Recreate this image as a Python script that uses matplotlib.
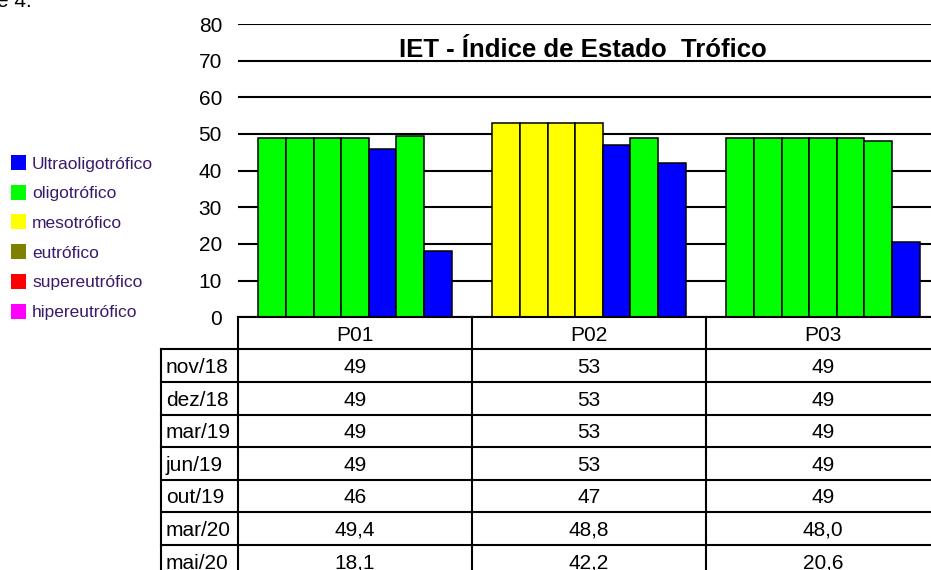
import matplotlib
matplotlib.use("Agg")
import matplotlib.pyplot as plt
from matplotlib.patches import Rectangle
from matplotlib.lines import Line2D
import numpy as np

# ---------------- data ----------------
points = ["P01", "P02", "P03"]
dates = ["nov/18", "dez/18", "mar/19", "jun/19", "out/19", "mar/20", "mai/20"]
decimals = [0, 0, 0, 0, 0, 1, 1]
p01 = [49, 49, 49, 49, 46, 49.4, 18.1]
p02 = [53, 53, 53, 53, 47, 48.8, 42.2]
p03 = [49, 49, 49, 49, 49, 48.0, 20.6]
classes = ["Ultraoligotrófico", "oligotrófico", "mesotrófico", "eutrófico",
           "supereutrófico", "hipereutrófico"]
class_colors = ["#0000FF", "#00FF00", "#FFFF00", "#808000", "#FF0000", "#FF00FF"]
class_upper = [47, 52, 59, 63, 67, 1000]   # IET class upper limits
yticks = [0, 10, 20, 30, 40, 50, 60, 70, 80]
title = "IET - Índice de Estado  Trófico"

values = [p01, p02, p03]

def class_color(v):
    for lim, c in zip(class_upper, class_colors):
        if v <= lim:
            return c
    return class_colors[-1]

def fmt(v, d):
    return f"{v:.{d}f}".replace(".", ",")

# ---------------- figure ----------------
W, H = 931, 570
fig = plt.figure(figsize=(W / 100, H / 100), dpi=100)
FONT = ["Liberation Sans", "DejaVu Sans"]

def fx(px):
    return px / W

def fy(py):
    return 1 - py / H

ax_left, ax_right = 238, 940
ax_top, ax_bot = 24, 317.2
ax = fig.add_axes([fx(ax_left), fy(ax_bot), fx(ax_right - ax_left), (ax_bot - ax_top) / H])
ax.set_xlim(-0.5, len(points) - 0.5)
ax.set_ylim(0, 80)
ax.set_axisbelow(True)
for s in ax.spines.values():
    s.set_visible(False)
ax.set_yticks(yticks)
ax.set_yticklabels([str(t) for t in yticks], fontsize=15, fontfamily=FONT)
ax.tick_params(axis="y", length=0, pad=11.5)
ax.set_xticks([])
ax.yaxis.grid(True, color="black", linewidth=1.5)

n = len(dates)
bw = 0.826 / n
for i, vals in enumerate(values):
    for j, v in enumerate(vals):
        ax.bar(i + (j - (n - 1) / 2) * bw, v, width=bw, color=class_color(v),
               edgecolor="black", linewidth=1.1, zorder=3)

# overlay in pixel coords for table/legend/title
ov = fig.add_axes([0, 0, 1, 1])
ov.set_xlim(0, W)
ov.set_ylim(H, 0)
ov.axis("off")
ov.patch.set_alpha(0)

fig.text(fx(582.5), fy(56.7), title, ha="center", va="baseline",
         fontsize=18.5, fontweight="bold", fontfamily=FONT)

# table
lw = 1.5
col_w = (ax_right - ax_left) / len(points)
label_left = 161
row_top = 316.9
row_h = 32.55
ov.add_line(Line2D([ax_left, W + 20], [row_top, row_top], color="black", lw=lw))
for k in range(n + 1):
    y = row_top + (k + 1) * row_h
    ov.add_line(Line2D([label_left, W + 20], [y, y], color="black", lw=lw))
ov.add_line(Line2D([label_left, label_left], [row_top + row_h, H + 20], color="black", lw=lw))
for c in range(len(points) + 1):
    x = ax_left + c * col_w
    ov.add_line(Line2D([x, x], [row_top, H + 20], color="black", lw=lw))

for c, p in enumerate(points):
    xc = ax_left + (c + 0.5) * col_w
    ov.text(xc, row_top + row_h / 2 + 7.5, p, ha="center", va="baseline",
            fontsize=15, fontfamily=FONT)
for r, d in enumerate(dates):
    yc = row_top + (r + 1.5) * row_h
    ov.text(166, yc + 7.5, d, ha="left", va="baseline", fontsize=15, fontfamily=FONT)
    for c, vals in enumerate(values):
        xc = ax_left + (c + 0.5) * col_w
        ov.text(xc, yc + 7.5, fmt(vals[r], decimals[r]), ha="center", va="baseline",
                fontsize=15, fontfamily=FONT)

# legend
leg_y0 = 162.5
leg_dy = 29.7
for k, (name, col) in enumerate(zip(classes, class_colors)):
    yc = leg_y0 + k * leg_dy
    ov.add_patch(Rectangle((11, yc - 7.5), 15, 15, facecolor=col, edgecolor="none"))
    ov.text(32, yc + 6, name, ha="left", va="baseline", fontsize=12.5,
            fontfamily=FONT, color="#3a1a6a")

# cut-off caption fragment at the top-left
ov.text(-3, 7, "e 4.", ha="left", va="baseline", fontsize=15, fontfamily=FONT)

fig.savefig("out.png", dpi=100)
